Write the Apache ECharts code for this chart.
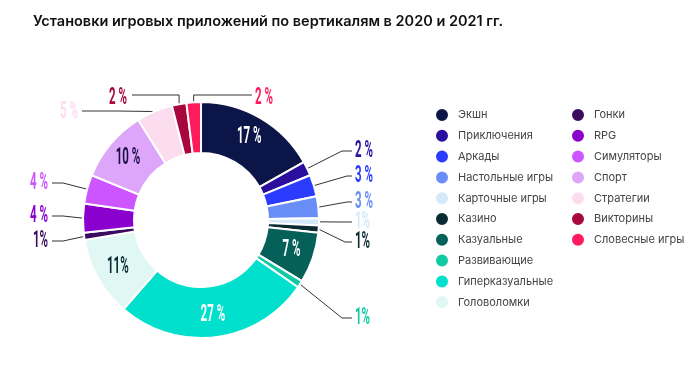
<!DOCTYPE html>
<html><head><meta charset="utf-8">
<script src="https://cdn.jsdelivr.net/npm/echarts@6/dist/echarts.min.js"></script>
<style>html,body{margin:0;padding:0;background:#fff}#c{width:700px;height:371px}</style>
</head><body><div id="c"></div>
<script>
const categories = ['Экшн','Приключения','Аркады','Настольные игры','Карточные игры','Казино','Казуальные','Развивающие','Гиперказуальные','Головоломки','Гонки','RPG','Симуляторы','Спорт','Стратегии','Викторины','Словесные игры'];
const values = [17,2,3,3,1,1,7,1,27,11,1,4,4,10,5,2,2];
const colors = ['#0c1548','#2a0f9e','#2b3cff','#6a8ef8','#d4eafb','#0b2b33','#06605a','#12c9a5','#00e0cc','#e0f7f4','#3c0b5e','#8a00cc','#cc55ff','#dda6fa','#fcdcef','#a8073e','#ff1a5e'];
const legendCol1 = categories.slice(0,10);
const legendCol2 = categories.slice(10);

// label styling (not data): inside labels and colours
const insideIdx = {0:'#ffffff',6:'#ffffff',8:'#ffffff',9:'#0b2b33',13:'#1a1046'};
// outside label placement: side, text y, elbow x
const place = {
  1:{side:'R',y:151,ex:342},
  2:{side:'R',y:176,ex:347},
  3:{side:'R',y:202,ex:347},
  4:{side:'R',y:222,ex:340},
  5:{side:'R',y:242,ex:345},
  7:{side:'R',y:318,ex:342},
  10:{side:'L',y:241,ex:63},
  11:{side:'L',y:216,ex:63},
  12:{side:'L',y:183,ex:63},
  14:{side:'TL',y:111,tx:78},
  15:{side:'TL2',y:95,tx:127},
  16:{side:'TR',y:95,tx:255}
};

const data = categories.map((n,i)=>{
  const it = {name:n, value:values[i], itemStyle:{color:colors[i]}};
  if (insideIdx[i] !== undefined) {
    it.label = {position:'inside', color:insideIdx[i]};
    it.labelLine = {show:false};
  } else {
    it.label = {position:'outside', color:colors[i]};
  }
  return it;
});

const chart = echarts.init(document.getElementById('c'), null, {renderer:'canvas'});
const legendCommon = {orient:'vertical', icon:'circle', itemWidth:14, itemHeight:14, itemGap:4.8, padding:0,
  textStyle:{fontFamily:'Inter, sans-serif', fontSize:11, color:'#444', lineHeight:16, padding:[0,0,0,4]}, selectedMode:false};
chart.setOption({
  animation:false,
  title:{text:'Установки игровых приложений по вертикалям в 2020 и 2021 гг.', left:33, top:14, padding:0,
    textStyle:{fontFamily:'Inter, sans-serif', fontSize:14.5, fontWeight:600, color:'#111'}},
  legend:[
    Object.assign({data:legendCol1, left:434, top:107}, legendCommon),
    Object.assign({data:legendCol2, left:570, top:107}, legendCommon)
  ],
  series:[{
    type:'pie',
    center:[201,220],
    radius:[67,118],
    startAngle:90,
    clockwise:true,
    avoidLabelOverlap:false,
    itemStyle:{borderColor:'#fff', borderWidth:2},
    label:{show:true, formatter:p=>(p.value%10===1 ? p.value+'%' : p.value+' %'), fontFamily:'Roboto, sans-serif', fontWeight:'bold', fontSize:23},
    labelLine:{show:true, lineStyle:{color:'#333', width:1}},
    labelLayout:function(params){
      const pl = place[params.dataIndex];
      if (!pl) return {};
      const s = (params.labelLinePoints && params.labelLinePoints[0]) || [0,0];
      if (pl.side==='R') return {x:355, y:pl.y, align:'left', verticalAlign:'middle', labelLinePoints:[s,[pl.ex,pl.y],[352,pl.y]]};
      if (pl.side==='L') return {x:48, y:pl.y, align:'right', verticalAlign:'middle', labelLinePoints:[s,[pl.ex,pl.y],[52,pl.y]]};
      if (pl.side==='TL') return {x:pl.tx, y:pl.y+1, align:'right', verticalAlign:'middle', labelLinePoints:[s,[(s[0]+pl.tx)/2,pl.y],[pl.tx+4,pl.y]]};
      if (pl.side==='TL2') return {x:pl.tx, y:pl.y+3, align:'right', verticalAlign:'middle', labelLinePoints:[s,[s[0],pl.y],[pl.tx+5,pl.y]]};
      if (pl.side==='TR') return {x:pl.tx, y:pl.y+3, align:'left', verticalAlign:'middle', labelLinePoints:[s,[s[0],pl.y],[pl.tx-3,pl.y]]};
      return {};
    },
    data:data
  }]
});
// condensed look for the percentage labels: squeeze the rendered label text horizontally
(function condense(){
  const zr = chart.getZr();
  zr.storage.getRoots().forEach(function(root){
    const visit = function(el){
      if (el.type === 'text' && el.style && typeof el.style.text === 'string' && el.style.text.indexOf('%') >= 0) {
        el.scaleX = 0.5;
        el.markRedraw();
      }
      if (el.childrenRef) el.childrenRef().forEach(visit);
      const tc = el.getTextContent && el.getTextContent();
      if (tc) visit(tc);
    };
    visit(root);
  });
  zr.refreshImmediately();
})();
</script></body></html>
